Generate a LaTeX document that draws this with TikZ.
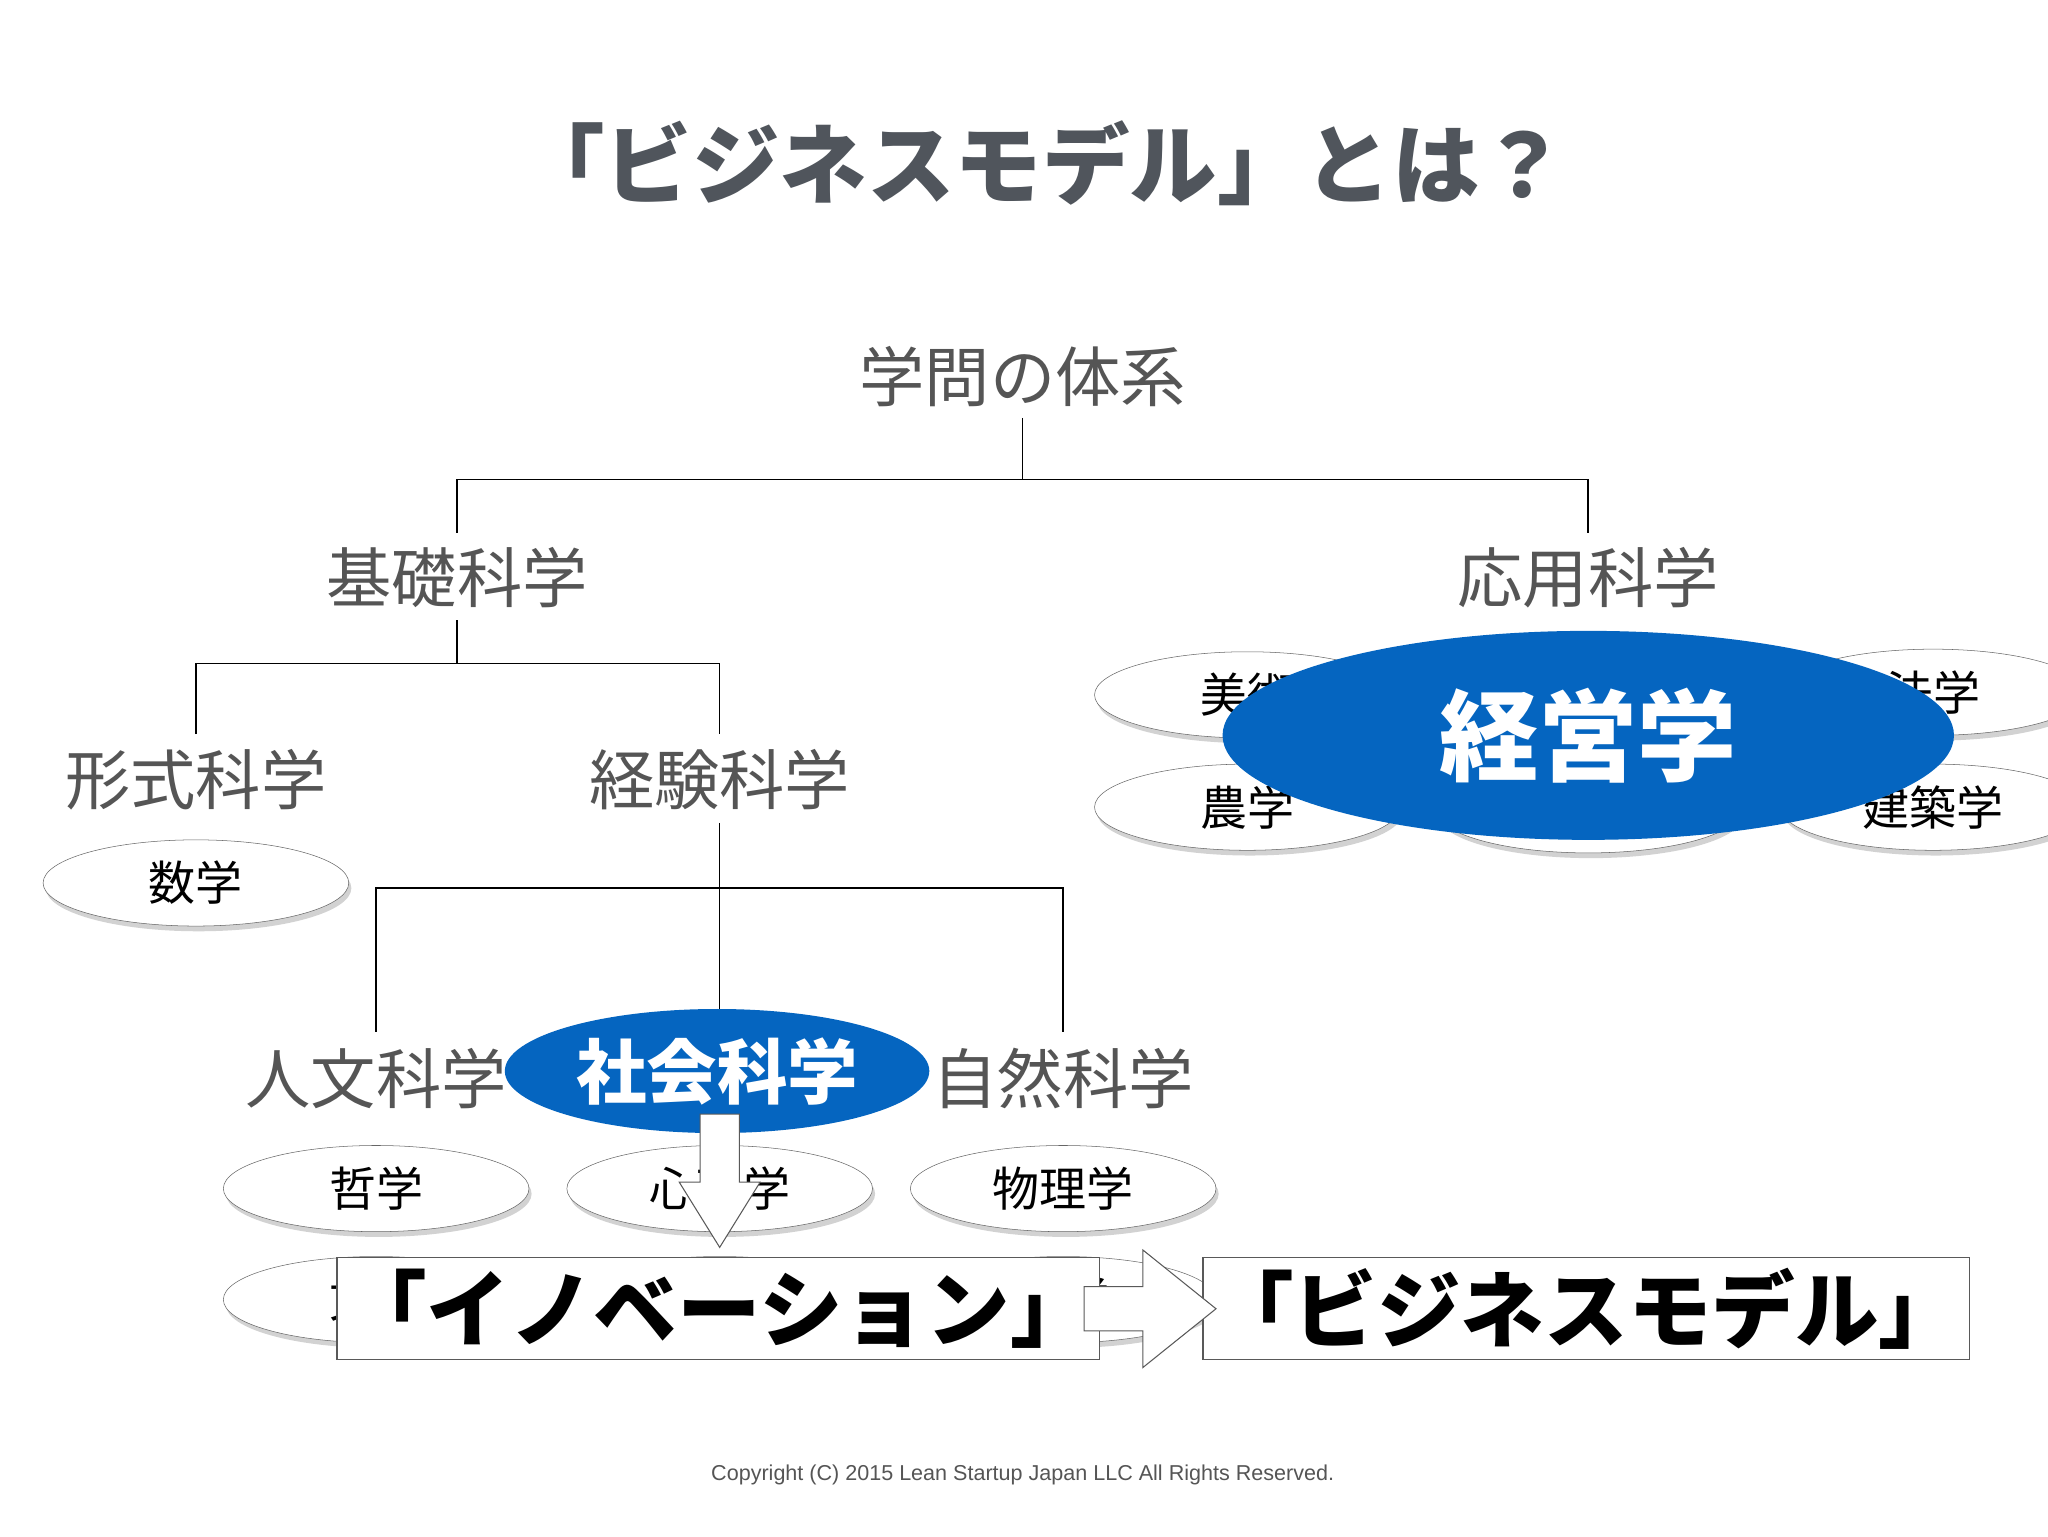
\documentclass[tikz,border=0pt]{standalone}
\usepackage{fontspec}
\setmainfont{Liberation Sans}
\newfontfamily\cjk{Noto Sans CJK JP}
\usetikzlibrary{shadows,shapes.geometric}
\definecolor{ttl}{HTML}{50555C}
\definecolor{gtx}{HTML}{555555}
\definecolor{blu}{HTML}{0565C0}
\tikzset{
 hd/.style={font=\cjk\fontsize{50}{50}\selectfont, text=gtx},
 ov/.style={ellipse, draw=gray!80!black, fill=white, minimum width=234, minimum height=66, inner sep=0,
   drop shadow={shadow xshift=2pt, shadow yshift=-4pt, opacity=0.35}, font=\cjk\fontsize{36}{36}\selectfont},
 ln/.style={draw=black, line width=1.2pt},
 bx/.style={draw=gray!70!black, fill=white, line width=1pt, minimum height=78, inner sep=0, font=\cjk\bfseries\fontsize{64}{64}\selectfont},
 arr/.style={draw=gray!70!black, fill=white, line width=0.8pt, line join=miter},
}
\begin{document}
\begin{tikzpicture}[x=1pt,y=-1pt]
\useasboundingbox (0,0) rectangle (1568,1176);
\fill[white] (0,0) rectangle (1568,1176);
\node[font=\cjk\bfseries\fontsize{67}{67}\selectfont, text=ttl] (title) at (798,125) {「ビジネスモデル」とは？};
\node[hd] (root) at (783,288) {学問の体系};
\node[hd] (kiso) at (350,442) {基礎科学};
\node[hd] (oyo) at (1216,442) {応用科学};
\node[hd] (keishiki) at (150,597) {形式科学};
\node[hd] (keiken) at (551,597) {経験科学};
\node[hd] (jinbun) at (288,826) {人文科学};
\node[hd] (shizen) at (814,826) {自然科学};
\coordinate (r1) at (783,367);
\coordinate (k1) at (350,508);
\coordinate (e1) at (551,680);
\draw[ln] (783,320) -- (r1);
\draw[ln] (350,408) |- (r1) -| (1216,408);
\draw[ln] (350,475) -- (k1);
\draw[ln] (150,562) |- (k1) -| (551,562);
\draw[ln] (551,630) -- (551,790);
\draw[ln] (288,790) |- (e1) -| (814,790);
\node[ov] (sugaku) at (150,676) {数学};
% applied cluster
\node[ov] (bijutsu) at (955,532) {美術};
\node[ov] (hogaku) at (1480,530) {法学};
\node[ov] (nogaku) at (955,618) {農学};
\node[ov] (hid) at (1216,620) {};
\node[ov] (kenchiku) at (1480,618) {建築学};
\node[ellipse, fill=blu, minimum width=560, minimum height=160, inner sep=0, text=white, font=\cjk\bfseries\fontsize{76}{76}\selectfont] (keiei) at (1216,563) {経営学};
% lower rows
\node[ov] (tetsu) at (288,910) {哲学};
\node[ov] (shinri) at (551,910) {心理学};
\node[ov] (butsuri) at (814,910) {物理学};
\node[ov] (bun) at (288,995) {文学};
\node[ov] (keizai) at (551,995) {経済学};
\node[ov] (kagaku) at (814,995) {化学};
\node[ellipse, fill=blu, minimum width=325, minimum height=95, inner sep=0, text=white, font=\cjk\bfseries\fontsize{54}{54}\selectfont] (shakai) at (549,820) {社会科学};
% down arrow
\draw[arr] (536,853) -- (566,853) -- (566,905) -- (582,905) -- (551,955) -- (520,905) -- (536,905) -- cycle;
\node[bx, minimum width=584] (inno) at (550,1002) {「イノベーション」};
\node[bx, minimum width=587] (bm) at (1214.5,1002) {「ビジネスモデル」};
% right arrow
\draw[arr] (830,985) -- (875,985) -- (875,957) -- (931,1002) -- (875,1047) -- (875,1019) -- (830,1019) -- cycle;
\node[font=\fontsize{16.5}{16.5}\selectfont, text=gtx] (copy) at (783,1129) {Copyright (C) 2015 Lean Startup Japan LLC All Rights Reserved.};
\end{tikzpicture}
\end{document}
